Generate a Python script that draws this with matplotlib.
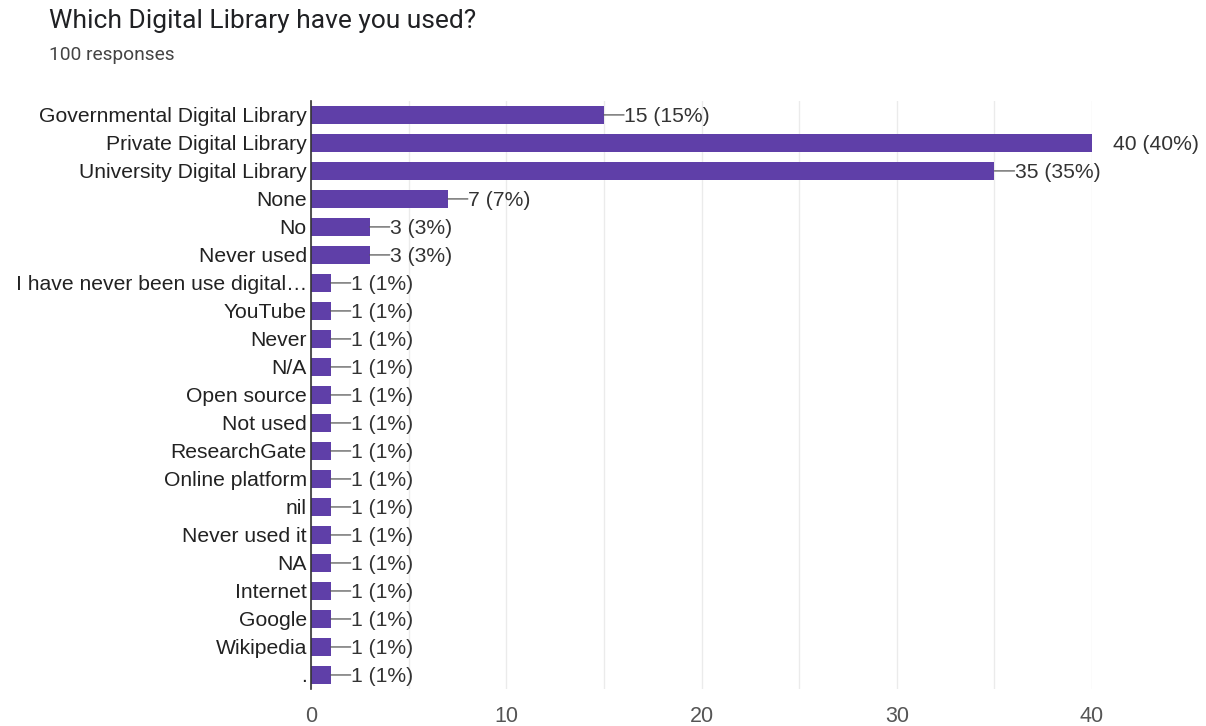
import matplotlib
matplotlib.use("Agg")
import matplotlib.pyplot as plt
import numpy as np

categories = [
    "Governmental Digital Library", "Private Digital Library", "University Digital Library",
    "None", "No", "Never used", "I have never been use digital…", "YouTube", "Never",
    "N/A", "Open source", "Not used", "ResearchGate", "Online platform", "nil",
    "Never used it", "NA", "Internet", "Google", "Wikipedia", ".",
]
counts = [15, 40, 35, 7, 3, 3, 1, 1, 1, 1, 1, 1, 1, 1, 1, 1, 1, 1, 1, 1, 1]
total_responses = 100
x_ticks = [0, 10, 20, 30, 40]

bar_color = "#5f3fa8"
label_font = ["Liberation Sans", "DejaVu Sans"]

fig = plt.figure(figsize=(12.06, 7.26), dpi=100)
ax = fig.add_axes([0.2579, 0.051, 0.6476, 0.81])

y = np.arange(len(categories))
ax.barh(y, counts, height=0.64, color=bar_color, zorder=3)

ax.set_ylim(len(categories) - 0.5, -0.5)
ax.set_xlim(0, 40)
ax.set_yticks(y)
ax.set_yticklabels(categories, fontsize=15.2, color="#222222", family=label_font)
ax.set_xticks(x_ticks)
ax.set_xticklabels([str(t) for t in x_ticks], fontsize=15.5, color="#555555", family=label_font)
ax.set_xticks(np.arange(5, 41, 10), minor=True)
ax.tick_params(axis="both", which="both", length=0)
ax.tick_params(axis="y", pad=3)
ax.tick_params(axis="x", pad=12)
ax.grid(axis="x", which="both", color="#ebebeb", linewidth=1, zorder=0)

for side in ["top", "right", "bottom"]:
    ax.spines[side].set_visible(False)
ax.spines["left"].set_color("#333333")
ax.spines["left"].set_linewidth(1.2)
ax.spines["left"].set_zorder(4)

max_count = max(counts)
for yi, c in zip(y, counts):
    text = f"{c} ({round(c / total_responses * 100)}%)"
    gap = 15 if c == max_count else 14.5
    if c != max_count:
        # short leader line from bar end to the label
        ax.annotate("", (c, yi), xytext=(gap, 0), textcoords="offset points",
                    annotation_clip=False,
                    arrowprops=dict(arrowstyle="-", color="#555555", lw=0.9,
                                    shrinkA=0, shrinkB=0))
    ax.annotate(text, (c, yi), xytext=(gap, -1), textcoords="offset points",
                va="center", ha="left", fontsize=15.2, color="#333333",
                family=label_font, annotation_clip=False)

fig.text(0.041, 0.988, "Which Digital Library have you used?", fontsize=19,
         color="#202124", family=["Roboto", "DejaVu Sans"], va="top", ha="left")
fig.text(0.041, 0.937, f"{total_responses} responses", fontsize=13.8,
         color="#444444", family=["Roboto", "DejaVu Sans"], va="top", ha="left")

fig.savefig("out.png", dpi=100, facecolor="white")
